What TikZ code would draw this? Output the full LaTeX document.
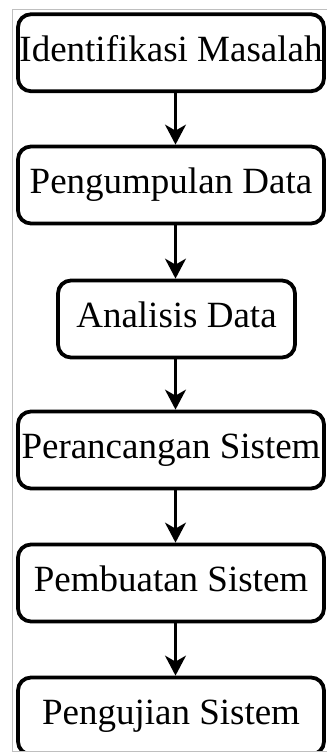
\documentclass[tikz,border=0pt]{standalone}
\usepackage{fontspec}
\setmainfont{Liberation Serif}
\usetikzlibrary{arrows.meta}
\begin{document}
\begin{tikzpicture}[x=1pt,y=-1pt,
  stepbox/.style={draw=black, line width=3.8pt, rounded corners=13pt,
    minimum width=306pt, minimum height=77pt, inner sep=0pt,
    font=\fontsize{37}{40}\selectfont, text height=25pt, text depth=8pt},
  flow/.style={line width=2.2pt, -{Stealth[length=20pt,width=21pt,inset=6pt]}},
  frame/.style={draw=black!25, line width=1pt}]
\useasboundingbox (0,0) rectangle (327,753);
\coordinate (col) at (175.5,0);
\begin{scope}
  \clip (12.5,9) rectangle (327,751);
  \node[stepbox] (s1) at (171,52.75) {Identifikasi Masalah};
  \node[stepbox] (s2) at (171,185) {Pengumpulan Data};
  \node[stepbox, minimum width=237pt] (s3) at (176.5,319) {Analisis Data};
  \node[stepbox] (s4) at (171,450) {Perancangan Sistem};
  \node[stepbox] (s5) at (171,583) {Pembuatan Sistem};
  \node[stepbox] (s6) at (171,716) {Pengujian Sistem};
  \draw[flow] (s1.south -| col) -- (s2.north -| col);
  \draw[flow] (s2.south -| col) -- (s3.north -| col);
  \draw[flow] (s3.south -| col) -- (s4.north -| col);
  \draw[flow] (s4.south -| col) -- (s5.north -| col);
  \draw[flow] (s5.south -| col) -- (s6.north -| col);
\end{scope}
% thin page frame on the top, left and bottom
\draw[frame] (327,9) -- (12.5,9) -- (12.5,751) -- (327,751);
\end{tikzpicture}
\end{document}
